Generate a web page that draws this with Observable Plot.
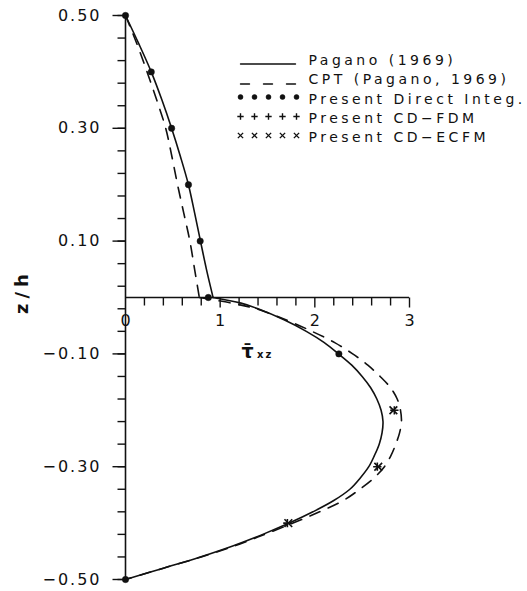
<!DOCTYPE html>
<html>
<head>
<meta charset="utf-8">
<script src="https://cdn.jsdelivr.net/npm/d3@7"></script>
<script src="https://cdn.jsdelivr.net/npm/@observablehq/plot@0.6"></script>
<style>
  html, body { margin: 0; padding: 0; background: #fff; }
  #chart svg { display: block; }
</style>
</head>
<body>
<div id="chart"></div>
<script>
// Through-thickness distribution of the transverse shear stress τ̄xz (two-layer laminate)

// Pagano (1969) elasticity solution, upper and lower layer
const paganoTopZ = [0.50, 0.45, 0.40, 0.35, 0.30, 0.25, 0.20, 0.15, 0.10, 0.05, 0.00];
const paganoTopTau = [0, 0.14, 0.272, 0.385, 0.487, 0.58, 0.665, 0.73, 0.792, 0.855, 0.925];
const paganoBottomZ = [0.00, -0.01, -0.02, -0.04, -0.06, -0.08, -0.10, -0.12, -0.14, -0.16, -0.18, -0.20, -0.22, -0.24, -0.26, -0.28, -0.30, -0.32, -0.34, -0.36, -0.38, -0.40, -0.42, -0.44, -0.46, -0.48, -0.50];
const paganoBottomTau = [0.925, 1.22, 1.40, 1.68, 1.91, 2.10, 2.25, 2.39, 2.50, 2.59, 2.655, 2.70, 2.72, 2.71, 2.68, 2.63, 2.57, 2.48, 2.37, 2.20, 1.98, 1.73, 1.45, 1.14, 0.79, 0.40, 0];

// Classical plate theory (Pagano, 1969)
const cptTopZ = [0.50, 0.45, 0.40, 0.35, 0.30, 0.25, 0.20, 0.15, 0.10, 0.05, 0.00];
const cptTopTau = [0, 0.12, 0.228, 0.33, 0.425, 0.49, 0.55, 0.615, 0.68, 0.73, 0.78];
const cptBottomZ = [0.00, -0.01, -0.02, -0.04, -0.06, -0.08, -0.10, -0.12, -0.14, -0.16, -0.18, -0.20, -0.22, -0.24, -0.26, -0.28, -0.30, -0.32, -0.34, -0.36, -0.38, -0.40, -0.42, -0.44, -0.46, -0.48, -0.50];
const cptBottomTau = [0.78, 1.12, 1.38, 1.70, 1.97, 2.21, 2.40, 2.56, 2.69, 2.80, 2.87, 2.905, 2.915, 2.895, 2.855, 2.805, 2.735, 2.625, 2.475, 2.30, 2.05, 1.77, 1.47, 1.16, 0.80, 0.40, 0];

// Present results
const directZ = [0.5, 0.4, 0.3, 0.2, 0.1, 0.0, -0.1, -0.5];
const directTau = [0, 0.272, 0.487, 0.665, 0.789, 0.875, 2.254, 0];
const fdmZ = [-0.2, -0.3, -0.4];
const fdmTau = [2.84, 2.66, 1.71];
const ecfmZ = [-0.2, -0.3, -0.4];
const ecfmTau = [2.83, 2.67, 1.72];

// Axis ticks and labels
const yTickLabels = [-0.5, -0.3, -0.1, 0.1, 0.3, 0.5];
const yMinorTicks = [-0.50, -0.46, -0.42, -0.38, -0.34, -0.30, -0.26, -0.22, -0.18, -0.14, -0.10, -0.06, -0.02,
                     0.02, 0.06, 0.10, 0.14, 0.18, 0.22, 0.26, 0.30, 0.34, 0.38, 0.42, 0.46, 0.50];
const xTickLabels = [0, 1, 2, 3];
const xMinorTicks = [0.2, 0.4, 0.6, 0.8, 1.2, 1.4, 1.6, 1.8, 2.2, 2.4, 2.6, 2.8];
const xMajorTicks = [1, 2, 3];

const legendLabels = ["Pagano (1969)", "CPT (Pagano, 1969)", "Present Direct Integ.", "Present CD−FDM", "Present CD−ECFM"];

// ---- layout (pixels) ----
const W = 527, H = 591;
const frame = {left: 125, right: 409, top: 15, bottom: 579};
const xs = d3.scaleLinear([0, 3], [frame.left, frame.right]);
const ys = d3.scaleLinear([-0.5, 0.5], [frame.bottom, frame.top]);

const legend = {
  lineX1: 240, lineX2: 295, textX: 308,
  symbolX: [240, 254, 268, 282, 296],
  lineY: [63.5, 83.5],
  symbolY: [96.5, 116, 135],
  baseline: [64, 83.5, 103, 122, 141]
};

const rows = (zs, taus, layer) => zs.map((z, i) => ({z, tau: taus[i], layer}));
const pagano = [...rows(paganoTopZ, paganoTopTau, "top"), ...rows(paganoBottomZ, paganoBottomTau, "bottom")];
const cpt = [...rows(cptTopZ, cptTopTau, "top"), ...rows(cptBottomZ, cptBottomTau, "bottom")];
const direct = rows(directZ, directTau, "d");
const fdm = rows(fdmZ, fdmTau, "f");
const ecfm = rows(ecfmZ, ecfmTau, "e");

// stroke-only tick symbols
const tickLeft = len => ({draw(ctx) { ctx.moveTo(0, 0); ctx.lineTo(-len, 0); }});
const tickDown = len => ({draw(ctx) { ctx.moveTo(0, 0); ctx.lineTo(0, len); }});

const fmt = d3.format(".2f");
const ink = "#111";

const legendRowLine = (i, dash) => Plot.line(
  [{x: xs.invert(legend.lineX1), y: ys.invert(legend.lineY[i])}, {x: xs.invert(legend.lineX2), y: ys.invert(legend.lineY[i])}],
  {x: "x", y: "y", stroke: ink, strokeWidth: 1.4, strokeDasharray: dash}
);
const legendRowSymbols = (i, opts) => Plot.dot(legend.symbolX, {
  x: d => xs.invert(d), y: () => ys.invert(legend.symbolY[i]), ...opts
});

const chart = Plot.plot({
  width: W,
  height: H,
  marginLeft: frame.left,
  marginRight: W - frame.right,
  marginTop: frame.top,
  marginBottom: H - frame.bottom,
  x: {domain: [0, 3], axis: null},
  y: {domain: [-0.5, 0.5], axis: null},
  style: {fontFamily: "'DejaVu Sans', sans-serif", fontSize: "16px", background: "#fff", color: ink},
  marks: [
    // axes
    Plot.ruleX([0], {y1: -0.5, y2: 0.5, stroke: ink, strokeWidth: 1.6}),
    Plot.ruleY([0], {x1: 0, x2: 3, stroke: ink, strokeWidth: 1.6}),
    Plot.dot(yMinorTicks, {x: () => 0, y: d => d, symbol: tickLeft(8), fill: "none", stroke: ink, strokeWidth: 1.4}),
    Plot.dot(yTickLabels, {x: () => 0, y: d => d, symbol: tickLeft(13), fill: "none", stroke: ink, strokeWidth: 1.4}),
    Plot.dot(xMinorTicks, {x: d => d, y: () => 0, symbol: tickDown(8), fill: "none", stroke: ink, strokeWidth: 1.4}),
    Plot.dot(xMajorTicks, {x: d => d, y: () => 0, symbol: tickDown(10), fill: "none", stroke: ink, strokeWidth: 1.4}),
    Plot.text(yTickLabels, {x: () => 0, y: d => d, text: d => fmt(d), textAnchor: "end", dx: -24, fontSize: 16, fill: ink, ariaDescription: "ytick"}),
    Plot.text(xTickLabels, {x: d => d, y: () => 0, text: d => String(d), dy: 28, lineAnchor: "bottom", fontSize: 16, fill: ink}),

    // axis titles
    Plot.text(["z/h"], {y: () => 0, frameAnchor: "left", dx: 27 - frame.left, dy: -6, rotate: -90, lineAnchor: "bottom", textAnchor: "middle", fontSize: 18, fontWeight: "bold", fill: ink, ariaDescription: "ztitle"}),
    Plot.text(["τ\u0304"], {x: () => xs.invert(241), y: () => ys.invert(357), textAnchor: "start", lineAnchor: "bottom", fontSize: 19, fontWeight: "bold", fill: ink}),
    Plot.text(["xz"], {x: () => xs.invert(256.5), y: () => ys.invert(357), textAnchor: "start", lineAnchor: "bottom", fontSize: 10, fontWeight: "bold", fill: ink, ariaDescription: "sub"}),

    // curves
    Plot.line(cpt, {x: "tau", y: "z", z: "layer", curve: "catmull-rom", stroke: ink, strokeWidth: 1.6, strokeDasharray: "11,9"}),
    Plot.line(pagano, {x: "tau", y: "z", z: "layer", curve: "catmull-rom", stroke: ink, strokeWidth: 1.6}),

    // present results
    Plot.dot(direct, {x: "tau", y: "z", r: 3.2, fill: ink, stroke: ink, strokeWidth: 0.5}),
    Plot.dot(fdm, {x: "tau", y: "z", symbol: "plus", r: 2.8, fill: "none", stroke: ink, strokeWidth: 1.6}),
    Plot.dot(ecfm, {x: "tau", y: "z", symbol: "times", r: 3.6, fill: "none", stroke: ink, strokeWidth: 1.6}),

    // legend
    legendRowLine(0, null),
    legendRowLine(1, "9,14"),
    legendRowSymbols(0, {r: 2.5, fill: ink, stroke: ink, strokeWidth: 0.5}),
    legendRowSymbols(1, {symbol: "plus", r: 2.2, fill: "none", stroke: ink, strokeWidth: 1.4}),
    legendRowSymbols(2, {symbol: "times", r: 2.5, fill: "none", stroke: ink, strokeWidth: 1.4}),
    Plot.text(legendLabels, {
      x: () => xs.invert(legend.textX), y: (d, i) => ys.invert(legend.baseline[i]),
      textAnchor: "start", lineAnchor: "bottom", fontSize: 14, fill: ink, ariaDescription: "legend"
    })
  ]
});

// wide lettering of the drawing font
const spacing = {legend: "3.5px", ytick: "2px", ztitle: "5px", sub: "2px"};
for (const [key, ls] of Object.entries(spacing)) {
  chart.querySelectorAll(`g[aria-description="${key}"] text`).forEach(t => t.style.letterSpacing = ls);
}

document.getElementById("chart").appendChild(chart);
</script>
</body>
</html>
